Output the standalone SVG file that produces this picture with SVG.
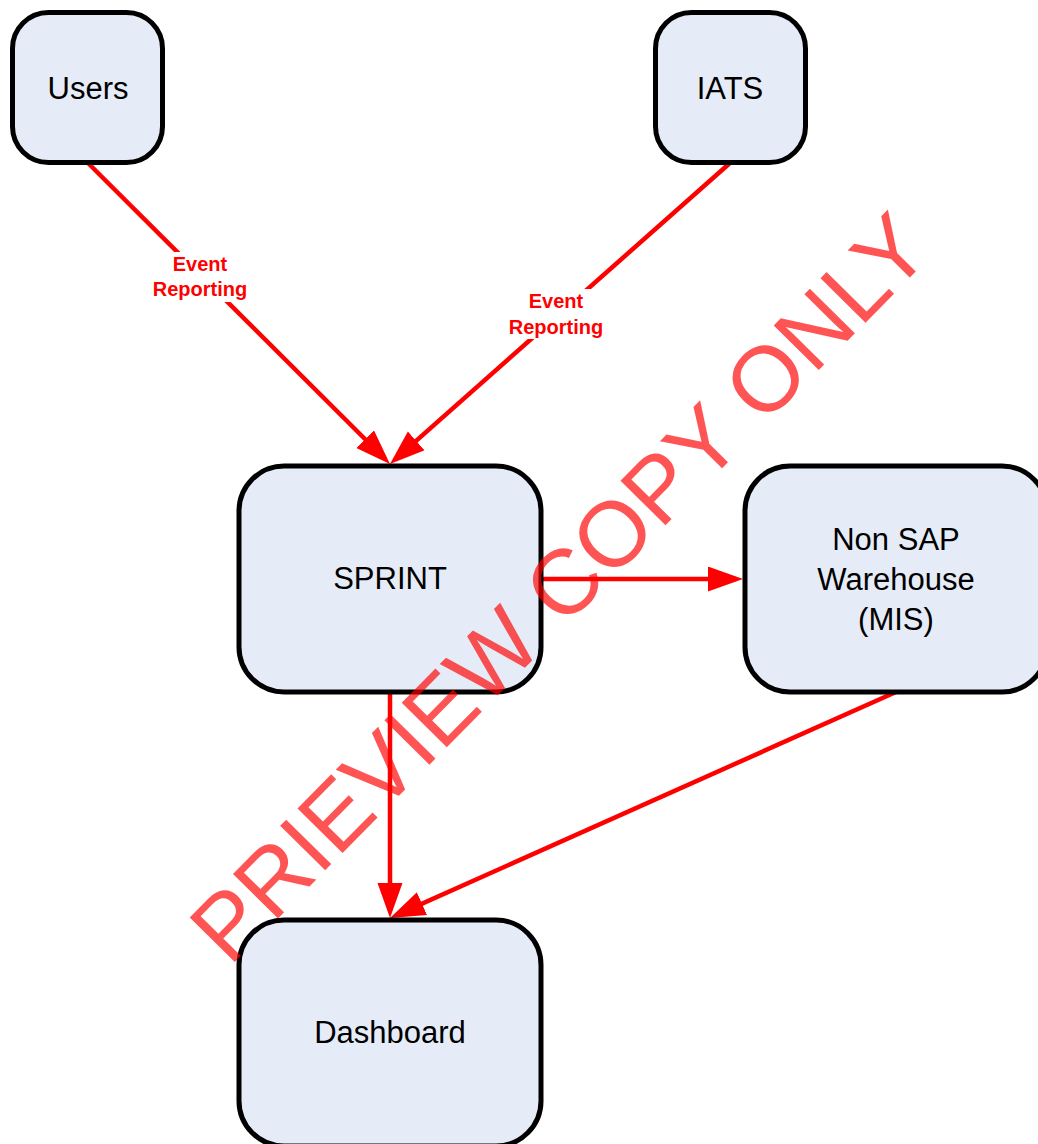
<svg xmlns="http://www.w3.org/2000/svg" width="1038" height="1144" viewBox="0 0 1038 1144">
  <style>
    .node rect { fill: #E6ECF7; stroke: #000; stroke-width: 5; }
    .node text { font-family: "Liberation Sans", Arial, sans-serif; font-size: 31px; fill: #000; text-anchor: middle; }
    .edge { fill: none; stroke: #FF0000; stroke-width: 4.5; }
    .lbl-bg { fill: #fff; }
    .lbl { font-family: "Liberation Sans", Arial, sans-serif; font-size: 20px; font-weight: bold; fill: #FF0000; text-anchor: middle; }
    .wm { font-family: "Liberation Sans", Arial, sans-serif; font-size: 92px; fill: #FF0000; fill-opacity: 0.67; text-anchor: middle; }
  </style>
  <defs>
    <marker id="arrow" markerUnits="userSpaceOnUse" markerWidth="36" markerHeight="26" refX="28" refY="12.5" orient="auto">
      <path d="M0,0 L35,12.5 L0,25 Z" fill="#FF0000"/>
    </marker>
  </defs>
  <rect width="1038" height="1144" fill="#fff"/>

  <!-- connectors -->
  <g id="connectors">
    <path class="edge" d="M88,163 L385,459" marker-end="url(#arrow)"/>
    <path class="edge" d="M730,163 L395.2,459.4" marker-end="url(#arrow)"/>
    <path class="edge" d="M541,579 L736,579" marker-end="url(#arrow)"/>
    <path class="edge" d="M390,692 L390,911" marker-end="url(#arrow)"/>
    <path class="edge" d="M896,692 L396.4,915.1" marker-end="url(#arrow)"/>
    <g id="label-users">
      <rect class="lbl-bg" x="148" y="252" width="106" height="50"/>
      <text class="lbl" x="200" y="271">Event</text>
      <text class="lbl" x="200" y="296">Reporting</text>
    </g>
    <g id="label-iats">
      <rect class="lbl-bg" x="503" y="289" width="106" height="50"/>
      <text class="lbl" x="556" y="308">Event</text>
      <text class="lbl" x="556" y="334">Reporting</text>
    </g>
  </g>

  <!-- nodes -->
  <g id="users" class="node">
    <rect x="12.5" y="12.5" width="150" height="150" rx="36"/>
    <text x="88" y="99">Users</text>
  </g>
  <g id="iats" class="node">
    <rect x="655.5" y="12.5" width="150" height="150" rx="36"/>
    <text x="730" y="99">IATS</text>
  </g>
  <g id="sprint" class="node">
    <rect x="239" y="466" width="302" height="226" rx="45"/>
    <text x="390" y="589">SPRINT</text>
  </g>
  <g id="warehouse" class="node">
    <rect x="745" y="466" width="302" height="226" rx="45"/>
    <text x="896" y="550">Non SAP</text>
    <text x="896" y="590">Warehouse</text>
    <text x="896" y="630">(MIS)</text>
  </g>
  <g id="dashboard" class="node">
    <rect x="239" y="920" width="302" height="226" rx="45"/>
    <text x="390" y="1043">Dashboard</text>
  </g>

  <!-- watermark -->
  <text class="wm" transform="translate(582,610) rotate(-45.4)">PRIEVIEW COPY ONLY</text>
</svg>
